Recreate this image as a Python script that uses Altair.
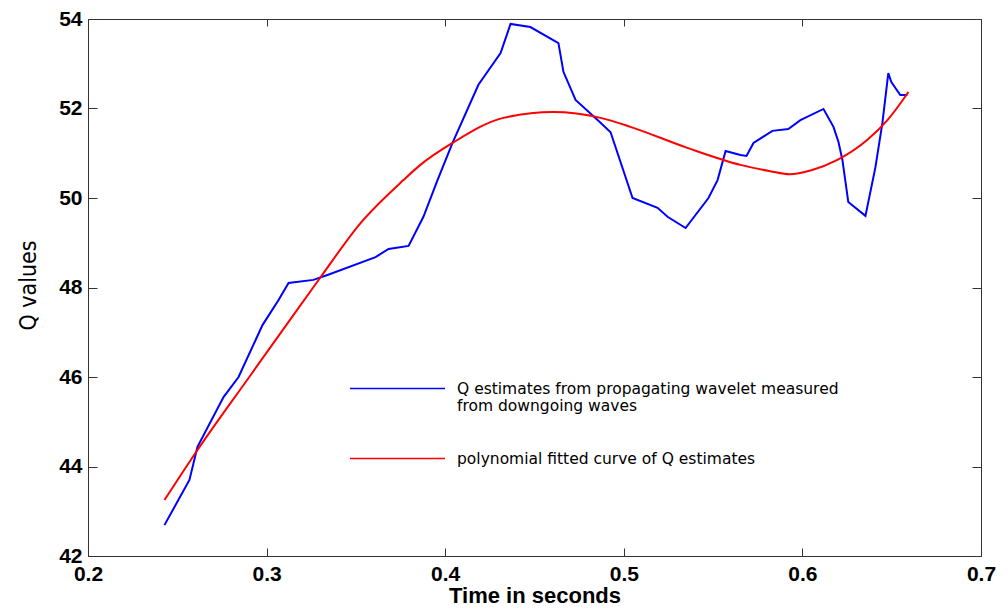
import altair as alt
import pandas as pd

# Blue: Q estimates from propagating wavelet
blue_t = [0.2428, 0.2568, 0.2613, 0.2759, 0.2843, 0.2977, 0.3067, 0.3123, 0.3262, 0.3341,
          0.3610, 0.3683, 0.3795, 0.3878, 0.3957, 0.4041, 0.4186, 0.4310, 0.4366, 0.4477,
          0.4634, 0.4662, 0.4730, 0.4870, 0.4926, 0.5049, 0.5189, 0.5245, 0.5346, 0.5474,
          0.5525, 0.5570, 0.5653, 0.5687, 0.5726, 0.5832, 0.5921, 0.5989, 0.6118, 0.6174,
          0.6202, 0.6224, 0.6257, 0.6353, 0.6409, 0.6448, 0.6481, 0.6498, 0.6548, 0.6588]
blue_q = [42.69, 43.70, 44.44, 45.55, 46.00, 47.16, 47.72, 48.10, 48.17, 48.28,
          48.68, 48.86, 48.93, 49.58, 50.40, 51.23, 52.53, 53.24, 53.89, 53.82,
          53.46, 52.82, 52.19, 51.68, 51.47, 50.00, 49.78, 49.58, 49.33, 50.00,
          50.40, 51.05, 50.96, 50.94, 51.23, 51.50, 51.54, 51.74, 51.99, 51.59,
          51.25, 50.85, 49.91, 49.60, 50.69, 51.68, 52.79, 52.59, 52.30, 52.30]

# Red: polynomial fitted curve
red_t = [0.2428, 0.2613, 0.2910, 0.3078, 0.3302, 0.3526, 0.3766, 0.3861, 0.4041, 0.4326,
         0.4606, 0.4870, 0.5037, 0.5356, 0.5653, 0.5820, 0.5930, 0.6050, 0.6196, 0.6364,
         0.6476, 0.6594]
red_q = [43.25, 44.37, 46.04, 46.98, 48.23, 49.44, 50.40, 50.74, 51.23, 51.79,
         51.92, 51.79, 51.59, 51.12, 50.74, 50.60, 50.53, 50.62, 50.85, 51.30,
         51.74, 52.37]

blue_name = "Q estimates from propagating wavelet measured|from downgoing waves"
red_name = " polynomial fitted curve  of Q estimates"

x_ticks = [0.2, 0.3, 0.4, 0.5, 0.6, 0.7]
y_ticks = [42, 44, 46, 48, 50, 52, 54]

blue_df = pd.DataFrame({"t": blue_t, "q": blue_q, "series": blue_name})
red_df = pd.DataFrame({"t": red_t, "q": red_q, "series": red_name})

FONT = "Liberation Sans"
AX = "#333333"

x_scale = alt.Scale(domain=[0.2, 0.7], nice=False, zero=False)
y_scale = alt.Scale(domain=[42, 54], nice=False, zero=False)
color_scale = alt.Scale(domain=[blue_name, red_name], range=["#0000ff", "#ff0000"])

legend = alt.Legend(
    orient="none", legendX=285, legendY=345, title=None,
    symbolType="M-2,0H2", symbolSize=2256, symbolStrokeWidth=1.5,
    labelFont="DejaVu Sans", labelFontSize=15.5, labelColor="black",
    labelLimit=800, labelOffset=35, rowPadding=19, padding=0,
    labelExpr="split(datum.label, '|')", direction="vertical",
)

main_x = alt.Axis(orient="bottom", values=x_ticks, format=".1f", ticks=True,
                  tickSize={"expr": "-8"}, tickColor=AX, tickWidth=1, domain=False,
                  grid=False, labelFont=FONT, labelFontSize=21, labelFontWeight="bold",
                  labelColor="black", labelPadding=15, labelFlush=False, labelOverlap=False,
                  title="Time in seconds", titleFont=FONT, titleFontSize=22,
                  titleFontWeight="bold", titleColor="black", titleY=46,
                  titleBaseline="alphabetic")
main_y = alt.Axis(orient="left", values=y_ticks, format="d", ticks=True,
                  tickSize={"expr": "-9"}, tickColor=AX, tickWidth=1, domain=False,
                  grid=False, labelFont=FONT, labelFontSize=21, labelFontWeight="bold",
                  labelColor="black", labelPadding=15, labelFlush=False, labelOverlap=False,
                  title="Q values",
                  titleFont="Liberation Sans Narrow, DejaVu Sans Condensed, Liberation Sans",
                  titleFontSize=23, titleFontWeight="normal", titleColor="black",
                  titleX=-53, titleY=266, titleAngle=270, titleAlign="center",
                  titleBaseline="alphabetic")


def tick_axis(orient, values, size):
    return alt.Axis(orient=orient, values=values, ticks=True, tickSize={"expr": str(-size)},
                    tickColor=AX, tickWidth=1, labels=False, domain=False, grid=False,
                    title=None)


blue = alt.Chart(blue_df).mark_line(strokeWidth=2, clip=True).encode(
    x=alt.X("t:Q", scale=x_scale, axis=main_x),
    y=alt.Y("q:Q", scale=y_scale, axis=main_y),
    color=alt.Color("series:N", scale=color_scale, legend=legend),
)

red = alt.Chart(red_df).mark_line(strokeWidth=2, interpolate="monotone", clip=True).encode(
    x=alt.X("t:Q", scale=x_scale, axis=tick_axis("top", x_ticks, 7)),
    y=alt.Y("q:Q", scale=y_scale, axis=tick_axis("right", y_ticks, 9)),
    color=alt.Color("series:N", scale=color_scale, legend=legend),
)

chart = (
    alt.layer(blue, red)
    .resolve_axis(x="independent", y="independent")
    .properties(width=893, height=537,
                autosize=alt.AutoSizeParams(type="none"),
                padding={"left": 80, "top": 11, "right": 19, "bottom": 50},
                background="white")
    .configure_view(stroke=AX, strokeWidth=1)
)

chart.save("out.html", embed_options={"renderer": "svg", "actions": False})
